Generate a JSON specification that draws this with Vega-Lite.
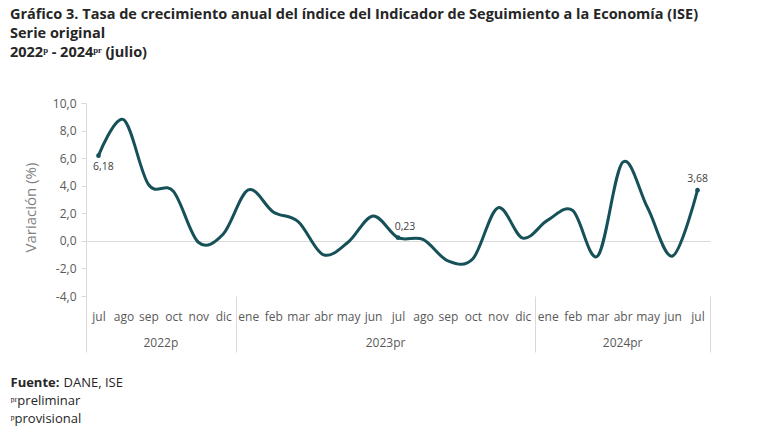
{
  "$schema": "https://vega.github.io/schema/vega-lite/v6.json",
  "autosize": "none",
  "width": 624,
  "height": 193,
  "padding": {"left": 86, "top": 103, "right": 50, "bottom": 150},
  "background": "white",
  "title": {
    "text": ["Gráfico 3. Tasa de crecimiento anual del índice del Indicador de Seguimiento a la Economía (ISE)", "Serie original", "2022ᵖ - 2024ᵖʳ (julio)"],
    "anchor": "start",
    "frame": "group",
    "dx": -76,
    "offset": 37,
    "font": "Open Sans",
    "fontSize": 14.5,
    "fontWeight": "bold",
    "color": "#262626",
    "lineHeight": 19
  },
  "data": {
    "values": [
      {"fecha": "2022-07", "valor": 6.18},
      {"fecha": "2022-08", "valor": 8.8},
      {"fecha": "2022-09", "valor": 4.1},
      {"fecha": "2022-10", "valor": 3.6},
      {"fecha": "2022-11", "valor": -0.1},
      {"fecha": "2022-12", "valor": 0.5},
      {"fecha": "2023-01", "valor": 3.7},
      {"fecha": "2023-02", "valor": 2.1},
      {"fecha": "2023-03", "valor": 1.4},
      {"fecha": "2023-04", "valor": -1.0},
      {"fecha": "2023-05", "valor": -0.1},
      {"fecha": "2023-06", "valor": 1.8},
      {"fecha": "2023-07", "valor": 0.23},
      {"fecha": "2023-08", "valor": 0.1},
      {"fecha": "2023-09", "valor": -1.45},
      {"fecha": "2023-10", "valor": -1.3},
      {"fecha": "2023-11", "valor": 2.4},
      {"fecha": "2023-12", "valor": 0.2},
      {"fecha": "2024-01", "valor": 1.5},
      {"fecha": "2024-02", "valor": 2.2},
      {"fecha": "2024-03", "valor": -1.1},
      {"fecha": "2024-04", "valor": 5.7},
      {"fecha": "2024-05", "valor": 2.4},
      {"fecha": "2024-06", "valor": -1.1},
      {"fecha": "2024-07", "valor": 3.68}
    ]
  },
  "resolve": {"axis": {"x": "independent"}},
  "encoding": {
    "y": {
      "field": "valor", "type": "quantitative",
      "scale": {"domain": [-4, 10], "nice": false, "zero": false},
      "axis": {
        "values": [-4, -2, 0, 2, 4, 6, 8, 10],
        "format": ".1f",
        "labelOverlap": false,
        "domainColor": "#d9d9d9",
        "tickColor": "#d9d9d9",
        "tickSize": 5,
        "labelPadding": 5,
        "labelFont": "Open Sans",
        "labelFontSize": 12,
        "labelColor": "#595959",
        "grid": true,
        "gridColor": "#d9d9d9",
        "gridOpacity": {"condition": {"test": "datum.value === 0", "value": 1}, "value": 0},
        "title": "Variación (%)",
        "titleFont": "Open Sans",
        "titleFontSize": 15,
        "titleFontWeight": "normal",
        "titleColor": "#7f7f7f",
        "titleAngle": 270,
        "titleAlign": "center",
        "titleBaseline": "middle",
        "titleX": -56,
        "titleY": 104
      }
    }
  },
  "layer": [
    {
      "mark": {"type": "line", "interpolate": "cardinal", "color": "#165058", "strokeWidth": 3},
      "encoding": {
        "x": {
          "field": "fecha", "type": "ordinal",
          "scale": {"type": "band", "paddingInner": 0, "paddingOuter": 0},
          "axis": {
            "orient": "bottom",
            "domain": false,
            "tickBand": "extent",
            "ticks": true,
            "tickSize": 56,
            "tickColor": "#d9d9d9",
            "tickOpacity": {"condition": {"test": "!isValid(datum.value) || datum.value === '2022-12' || datum.value === '2023-12' || datum.value === '2024-07'", "value": 1}, "value": 0},
            "labelExpr": "isValid(datum.value) ? ['ene','feb','mar','abr','may','jun','jul','ago','sep','oct','nov','dic'][toNumber(slice(datum.value, 5, 7)) - 1] : ''",
            "labelAngle": 0,
            "labelPadding": -41,
            "labelFont": "Open Sans",
            "labelFontSize": 12,
            "labelColor": "#595959",
            "title": "Fuente:",
            "titleFont": "Open Sans",
            "titleFontSize": 13,
            "titleFontWeight": "bold",
            "titleColor": "#262626",
            "titleAlign": "left",
            "titleBaseline": "middle",
            "titleX": -76,
            "titleY": 86
          }
        }
      }
    },
    {
      "transform": [{"filter": {"field": "fecha", "oneOf": ["2022-07", "2023-07", "2024-07"]}}],
      "mark": {"type": "point", "filled": true, "size": 22, "color": "#165058", "opacity": 1},
      "encoding": {
        "x": {
          "field": "fecha", "type": "ordinal",
          "scale": {"type": "band", "paddingInner": 0, "paddingOuter": 0},
          "axis": {
            "orient": "bottom",
            "domain": false,
            "ticks": false,
            "values": ["2022-09", "2023-06", "2024-04"],
            "labelExpr": "datum.value === '2022-09' ? '2022p' : (datum.value === '2023-06' ? '2023pr' : '2024pr')",
            "labelOffset": {"condition": {"test": "datum.value === '2024-04'", "value": 0}, "value": 12.5},
            "labelAngle": 0,
            "labelPadding": 41,
            "labelFont": "Open Sans",
            "labelFontSize": 12,
            "labelColor": "#595959",
            "title": ["ᵖʳpreliminar", "ᵖprovisional"],
            "titleFont": "Open Sans",
            "titleFontSize": 13,
            "titleFontWeight": "normal",
            "titleColor": "#262626",
            "titleAlign": "left",
            "titleBaseline": "middle",
            "titleLineHeight": 18,
            "titleX": -76,
            "titleY": 104
          }
        }
      }
    },
    {
      "transform": [{"filter": {"field": "fecha", "equal": "2022-07"}}],
      "mark": {"type": "text", "dx": 5, "dy": 11, "font": "Open Sans", "fontSize": 10.5, "color": "#404040"},
      "encoding": {
        "x": {
          "field": "fecha", "type": "ordinal",
          "scale": {"type": "band", "paddingInner": 0, "paddingOuter": 0},
          "axis": {
            "orient": "bottom",
            "domain": false, "ticks": false, "labels": false,
            "title": "DANE, ISE",
            "titleFont": "Open Sans",
            "titleFontSize": 13,
            "titleFontWeight": "normal",
            "titleColor": "#262626",
            "titleAlign": "left",
            "titleBaseline": "middle",
            "titleX": -23,
            "titleY": 86
          }
        },
        "text": {"field": "valor", "type": "quantitative", "format": ".2f"}
      }
    },
    {
      "transform": [{"filter": {"field": "fecha", "equal": "2023-07"}}],
      "mark": {"type": "text", "dx": 7, "dy": -11, "font": "Open Sans", "fontSize": 10.5, "color": "#404040"},
      "encoding": {
        "x": {"field": "fecha", "type": "ordinal", "scale": {"type": "band", "paddingInner": 0, "paddingOuter": 0}, "axis": null},
        "text": {"field": "valor", "type": "quantitative", "format": ".2f"}
      }
    },
    {
      "transform": [{"filter": {"field": "fecha", "equal": "2024-07"}}],
      "mark": {"type": "text", "dx": 0, "dy": -11, "font": "Open Sans", "fontSize": 10.5, "color": "#404040"},
      "encoding": {
        "x": {"field": "fecha", "type": "ordinal", "scale": {"type": "band", "paddingInner": 0, "paddingOuter": 0}, "axis": null},
        "text": {"field": "valor", "type": "quantitative", "format": ".2f"}
      }
    }
  ],
  "config": {
    "view": {"stroke": null},
    "font": "Open Sans",
    "locale": {
      "number": {"decimal": ",", "thousands": ".", "grouping": [3], "currency": ["$", ""], "minus": "-"}
    }
  }
}
